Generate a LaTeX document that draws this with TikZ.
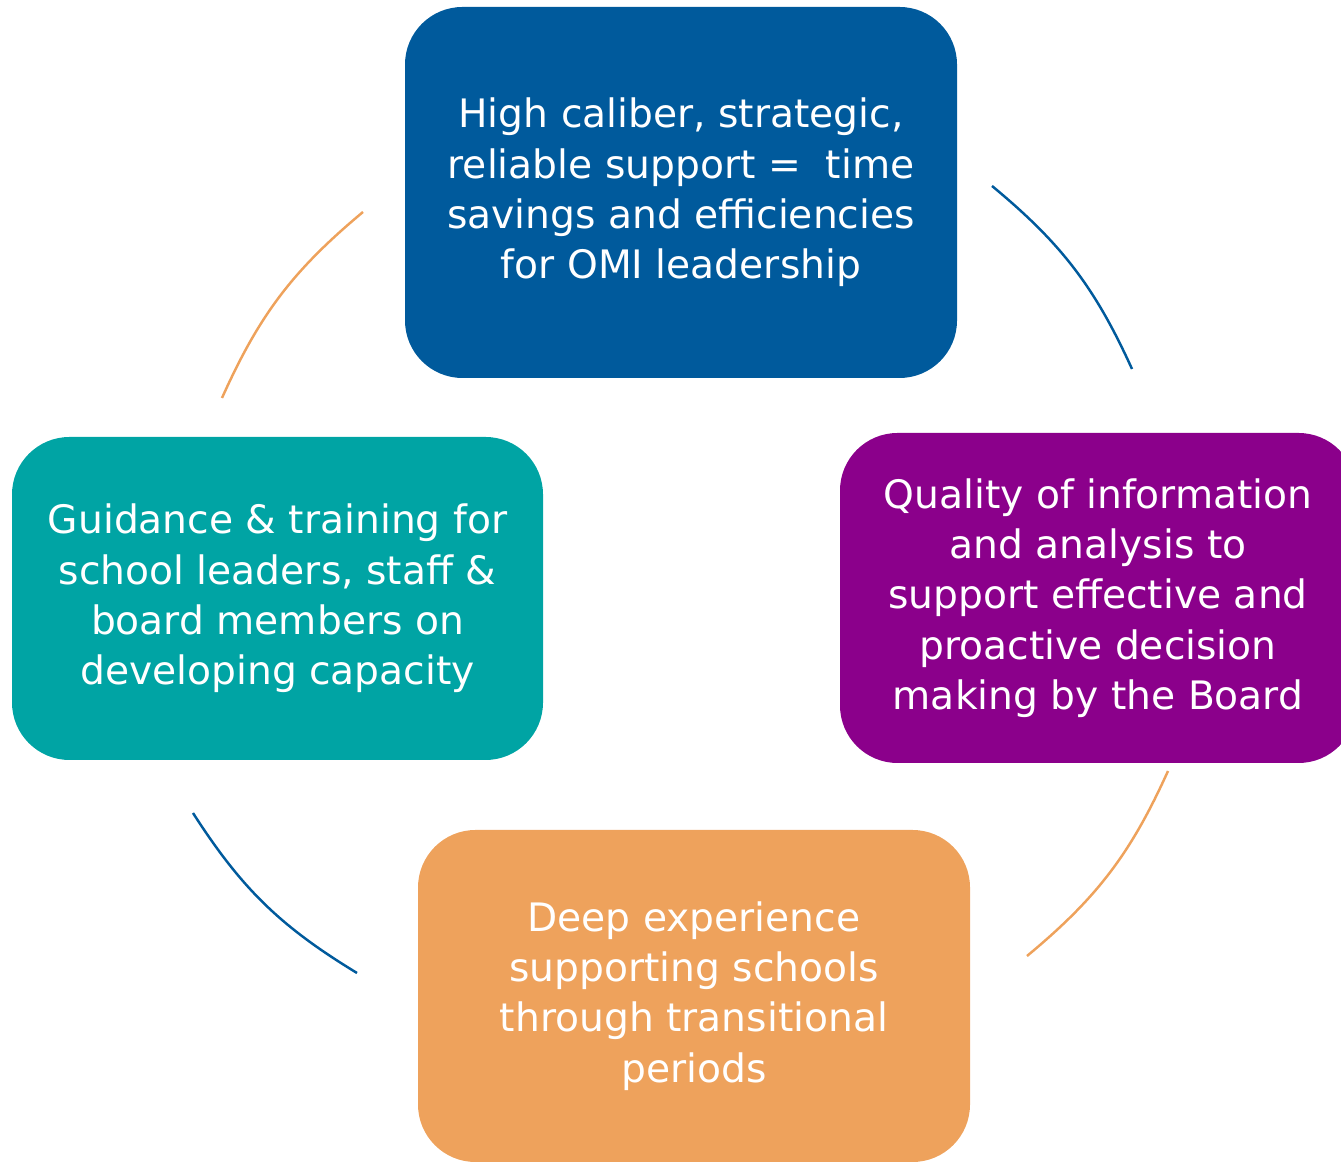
\documentclass[tikz,border=0pt]{standalone}
\usepackage{fontspec}
\setmainfont{DejaVu Sans}
\usetikzlibrary{arrows}

\definecolor{omiblue}{RGB}{0,90,156}
\definecolor{omiteal}{RGB}{0,164,164}
\definecolor{omipurple}{RGB}{139,0,139}
\definecolor{omiorange}{RGB}{238,162,92}

\tikzset{
  card/.style={rectangle, rounded corners=1.15cm, text=white, align=center,
               font=\fontsize{22.3}{28.6}\selectfont, inner sep=0pt},
  ring/.style={line width=1.4pt, bend left=13}
}

\begin{document}
\begin{tikzpicture}
   \useasboundingbox (0,0) rectangle (26.82,23.3);

   % Nodes
      \node[card,fill=omiblue,minimum width=11.04cm,minimum height=7.42cm]   (lead)  at (13.62,19.45) {High caliber, strategic,\\reliable support = \ time\\savings and efficiencies\\for OMI leadership};
      \node[card,fill=omipurple,minimum width=10.32cm,minimum height=6.6cm]  (info)  at (21.96,11.34) {Quality of information\\and analysis to\\support effective and\\proactive decision\\making by the Board};
      \node[card,fill=omiorange,minimum width=11.04cm,minimum height=6.64cm] (trans) at (13.88,3.38)  {Deep experience\\supporting schools\\through transitional\\periods};
      \node[card,fill=omiteal,minimum width=10.62cm,minimum height=6.46cm]   (guide) at (5.55,11.33)  {Guidance \& training for\\school leaders, staff \&\\board members on\\developing capacity};

   % Arc ends
      \coordinate (tr1) at (19.84,19.58);  \coordinate (tr2) at (22.64,15.92);
      \coordinate (br1) at (23.36,7.88);   \coordinate (br2) at (20.54,4.18);
      \coordinate (bl1) at (7.14,3.84);    \coordinate (bl2) at (3.86,7.04);
      \coordinate (tl1) at (4.44,15.34);   \coordinate (tl2) at (7.26,19.06);

   % Paths
      \draw[ring,omiblue]   (tr1) to (tr2);
      \draw[ring,omiorange] (br1) to (br2);
      \draw[ring,omiblue]   (bl1) to (bl2);
      \draw[ring,omiorange] (tl1) to (tl2);
\end{tikzpicture}
\end{document}
